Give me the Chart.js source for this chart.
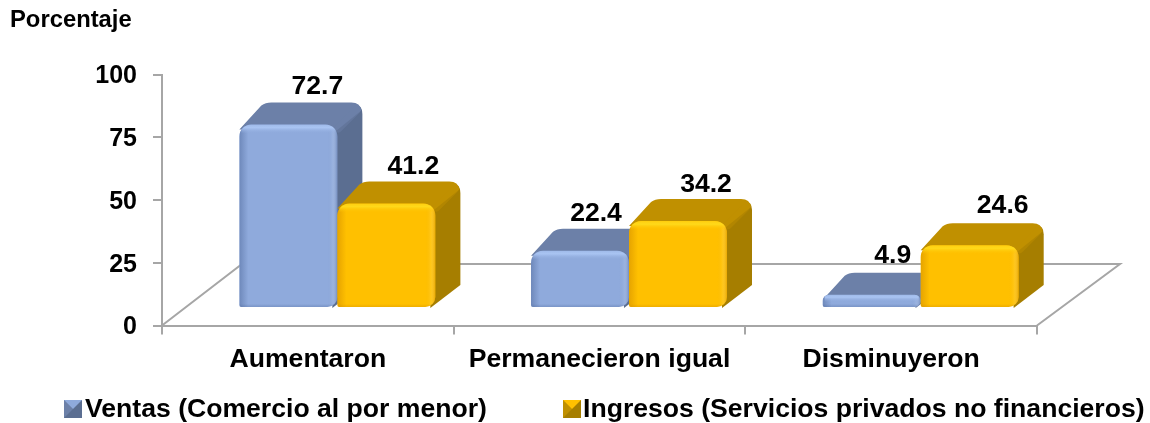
<!DOCTYPE html>
<html><head><meta charset="utf-8">
<style>html,body{margin:0;padding:0;background:#fff}canvas{display:block}</style>
<script src="https://cdn.jsdelivr.net/npm/chart.js@4/dist/chart.umd.min.js"></script>
</head><body><canvas id="c" width="1150" height="423"></canvas>
<script>
const categories = ["Aumentaron", "Permanecieron igual", "Disminuyeron"];
const ventas = [72.7, 22.4, 4.9];
const ingresos = [41.2, 34.2, 24.6];
const seriesNames = ["Ventas (Comercio al por menor)", "Ingresos (Servicios privados no financieros)"];
const yTicks = [0, 25, 50, 75, 100];

const FONT = '"Liberation Sans", Arial, sans-serif';
const AXIS = '#A6A6A6';
const DX = 25, DY = 22, FLOOR_DX = 80, FLOOR_DY = 61.5;
const palette = [
  {front:'#8FAADC', top:'#6C80A8', side:'#5B6E91', glow:'#A9C4F2', dark:'70,95,145'},
  {front:'#FFC000', top:'#C09000', side:'#A67E00', glow:'#FFD91A', dark:'200,130,0'}
];
const labelShift = [[29,16,21],[27,28,33]];
const labelRaise = [[38,37,39],[37,36,40]];
const legendPos = [{box:64,text:85},{box:563,text:583}];

function drawSwatch(ctx,x,y,s,p){
  ctx.fillStyle=p.side;ctx.fillRect(x,y,s,s);
  ctx.fillStyle=p.top;ctx.beginPath();ctx.moveTo(x,y);ctx.lineTo(x+s/2,y+s/2);ctx.lineTo(x,y+s);ctx.closePath();ctx.fill();
  ctx.fillStyle=p.front;ctx.beginPath();ctx.moveTo(x,y);ctx.lineTo(x+s,y);ctx.lineTo(x+s/2,y+s/2);ctx.closePath();ctx.fill();
}

function drawDepth(ctx,b,p){
  const w=b.width,l=b.x-w/2,r=b.x+w/2,t=b.y,bt=b.base,R=Math.min(11,(bt-t));
  ctx.fillStyle=p.side;
  ctx.beginPath();ctx.moveTo(r-8,t);ctx.lineTo(r+DX-10,t-DY+3);
  ctx.quadraticCurveTo(r+DX,t-DY+1,r+DX,t-DY+R);
  ctx.lineTo(r+DX,bt-DY);ctx.lineTo(r-5,bt+1);ctx.closePath();ctx.fill();
  ctx.fillStyle=p.top;
  ctx.beginPath();ctx.moveTo(l,t+5);ctx.lineTo(l+DX-3,t-DY+3);
  ctx.quadraticCurveTo(l+DX+1,t-DY,l+DX+7,t-DY);
  ctx.lineTo(r+DX-11,t-DY);ctx.quadraticCurveTo(r+DX-2,t-DY,r+DX-1,t-DY+8);
  ctx.lineTo(r-2,t+7);ctx.lineTo(r-10,t+6);ctx.closePath();ctx.fill();
  ctx.save();ctx.globalAlpha=.45;ctx.strokeStyle=p.top;ctx.lineCap='round';ctx.lineWidth=8;
  ctx.beginPath();ctx.moveTo(r+1,t+4);ctx.lineTo(r+DX-6,t-DY+8);ctx.stroke();ctx.restore();
}
function drawBevel(ctx,b,p){
  const w=b.width,l=b.x-w/2,r=b.x+w/2,t=b.y,bt=b.base,h=bt-t,R=Math.min(12,h/2);
  ctx.save();
  ctx.beginPath();ctx.roundRect(l,t,w,h,[R,R,Math.min(10,h/2),2]);ctx.clip();
  let g=ctx.createLinearGradient(l,0,l+9,0);
  g.addColorStop(0,'rgba('+p.dark+',.45)');g.addColorStop(1,'rgba('+p.dark+',0)');
  ctx.fillStyle=g;ctx.fillRect(l,t,9,h);
  g=ctx.createLinearGradient(r-10,0,r,0);
  g.addColorStop(0,'rgba('+p.dark+',0)');g.addColorStop(.5,'rgba(255,255,255,.08)');g.addColorStop(1,'rgba('+p.dark+',.4)');
  ctx.fillStyle=g;ctx.fillRect(r-10,t,10,h);
  const hh=Math.min(9,h*.6);
  g=ctx.createLinearGradient(0,t,0,t+hh);
  g.addColorStop(0,p.glow+'99');g.addColorStop(.35,p.glow);g.addColorStop(1,p.front+'00');
  ctx.fillStyle=g;ctx.fillRect(l+2,t,w-4,hh);
  g=ctx.createLinearGradient(0,bt-3,0,bt);
  g.addColorStop(0,'rgba('+p.dark+',0)');g.addColorStop(1,'rgba('+p.dark+',.3)');
  ctx.fillStyle=g;ctx.fillRect(l,bt-3,w,3);
  ctx.restore();
}

const scene = {
  id:'scene',
  beforeDatasetDraw(){ return false; },
  beforeDatasetsDraw(chart){
    const ctx=chart.ctx,a=chart.chartArea;
    ctx.save();
    ctx.strokeStyle=AXIS;ctx.lineWidth=2;
    ctx.beginPath();
    ctx.moveTo(a.left,a.bottom);ctx.lineTo(a.left+FLOOR_DX,a.bottom-FLOOR_DY);
    ctx.lineTo(a.right+FLOOR_DX+3,a.bottom-FLOOR_DY);ctx.lineTo(a.right,a.bottom);
    ctx.stroke();
    ctx.restore();
  },
  afterDatasetsDraw(chart){
    const ctx=chart.ctx;
    chart.data.datasets.forEach((d,i)=>{
      const m=chart.getDatasetMeta(i),p=palette[i];
      m.data.forEach(b=>drawDepth(ctx,b,p));
      m.controller.draw();
      m.data.forEach(b=>drawBevel(ctx,b,p));
    });
    ctx.save();
    ctx.fillStyle='#000';ctx.font='bold 26.6px '+FONT;ctx.textAlign='center';ctx.textBaseline='middle';
    chart.data.datasets.forEach((d,i)=>{
      chart.getDatasetMeta(i).data.forEach((b,j)=>{
        ctx.fillText(d.data[j].y.toFixed(1),b.x+labelShift[i][j],b.y-labelRaise[i][j]);
      });
    });
    ctx.textAlign='left';ctx.textBaseline='alphabetic';
    chart.data.datasets.forEach((d,i)=>{
      drawSwatch(ctx,legendPos[i].box,400,18,palette[i]);
      ctx.fillStyle='#000';
      ctx.fillText(d.label,legendPos[i].text,417);
    });
    ctx.restore();
  }
};

const toPoints = arr => arr.map((v,i)=>({x:i,y:v}));
const corners = {topLeft:12,topRight:12,bottomLeft:2,bottomRight:10};
new Chart(document.getElementById('c'),{
  type:'bar',
  plugins:[scene],
  data:{
    labels:categories,
    datasets:[
      {label:seriesNames[0],data:toPoints(ventas),backgroundColor:palette[0].front,xAxisID:'xB',yAxisID:'yB',borderRadius:corners,borderSkipped:false},
      {label:seriesNames[1],data:toPoints(ingresos),backgroundColor:palette[1].front,xAxisID:'xB',yAxisID:'yB',borderRadius:corners,borderSkipped:false}
    ]
  },
  options:{
    responsive:false,animation:false,
    categoryPercentage:.672,barPercentage:1,
    layout:{padding:{left:10,right:113,top:0,bottom:41.5}},
    plugins:{
      tooltip:{enabled:false},
      title:{display:true,text:'Porcentaje',align:'start',color:'#000',font:{family:FONT,size:23.8,weight:'bold'},padding:{top:6,bottom:40}},
      legend:{display:false}
    },
    scales:{
      x:{type:'category',labels:categories,offset:true,position:'bottom',
        grid:{offset:true,drawOnChartArea:false,tickLength:9,color:AXIS,lineWidth:2},
        border:{color:AXIS,width:2},
        ticks:{color:'#000',padding:9,maxRotation:0,autoSkip:false,font:{family:FONT,size:26.6,weight:'bold'}},
        afterFit(s){s.height=56;}},
      y:{type:'linear',min:0,max:100,position:'left',
        afterBuildTicks(s){s.ticks=yTicks.map(v=>({value:v}));},
        grid:{drawOnChartArea:false,tickLength:9,color:AXIS,lineWidth:2},
        border:{color:AXIS,width:2},
        ticks:{color:'#000',padding:16,labelOffset:2,font:{family:FONT,size:25,weight:'bold'}},
        afterFit(s){s.width=152;}},
      xB:{type:'linear',display:false,offset:false,min:-0.6012,max:2.3988,position:'bottom',
        afterBuildTicks(s){s.ticks=categories.map((c,i)=>({value:i}));}},
      yB:{type:'linear',display:false,min:-7.4,max:92.6,position:'left'}
    }
  }
});
</script></body></html>
